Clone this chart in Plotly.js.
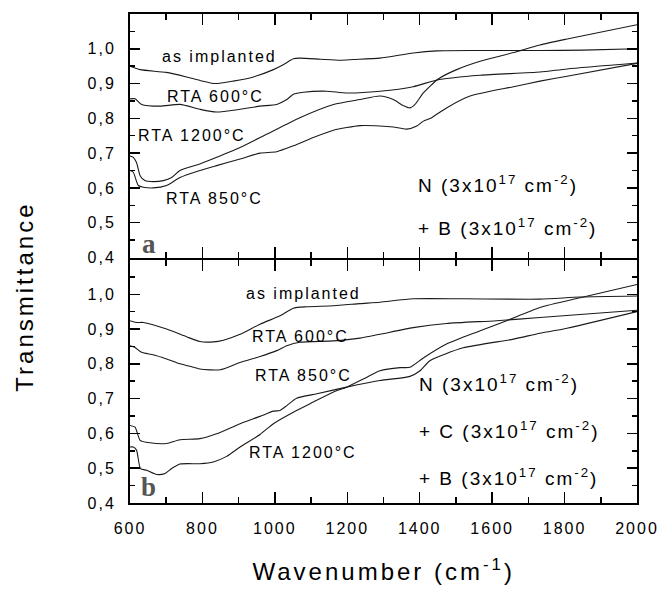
<!DOCTYPE html>
<html>
<head>
<meta charset="utf-8">
<script src="https://cdn.plot.ly/plotly-3.0.1.min.js"></script>
<style>
body { margin: 0; background: #fff; }
#chart { width: 660px; height: 589px; }
.main-svg text { letter-spacing: 2px; }
</style>
</head>
<body>
<div id="chart"></div>
<script>
// ---- Panel a: N + B ----
const aImplX = [600, 628, 700, 756, 793, 835, 885, 941, 996, 1023, 1051, 1069, 1125, 1180, 1217, 1290, 1382, 1448, 1567, 1732, 1850, 2000];
const aImplY = [0.950, 0.940, 0.932, 0.919, 0.909, 0.900, 0.907, 0.919, 0.940, 0.954, 0.971, 0.973, 0.970, 0.967, 0.969, 0.973, 0.988, 0.994, 0.995, 0.995, 0.996, 1.000];

const a600X = [600, 614, 632, 683, 738, 793, 839, 904, 959, 1005, 1033, 1051, 1079, 1143, 1198, 1290, 1382, 1451, 1567, 1732, 1807, 2000];
const a600Y = [0.856, 0.856, 0.840, 0.835, 0.840, 0.826, 0.818, 0.826, 0.835, 0.840, 0.854, 0.869, 0.875, 0.878, 0.873, 0.878, 0.891, 0.911, 0.924, 0.933, 0.942, 0.959];

const a1200X = [600, 609, 618, 628, 641, 664, 692, 715, 738, 793, 839, 904, 977, 1069, 1162, 1235, 1290, 1327, 1354, 1373, 1387, 1410, 1451, 1502, 1567, 1659, 1732, 1807, 2000];
const a1200Y = [0.692, 0.688, 0.673, 0.635, 0.621, 0.618, 0.621, 0.630, 0.650, 0.669, 0.688, 0.716, 0.754, 0.802, 0.840, 0.854, 0.864, 0.854, 0.837, 0.830, 0.840, 0.873, 0.913, 0.940, 0.964, 0.989, 1.011, 1.028, 1.069];

const a850X = [600, 609, 623, 637, 664, 701, 738, 793, 839, 904, 959, 1005, 1051, 1106, 1162, 1235, 1290, 1327, 1364, 1392, 1410, 1433, 1474, 1539, 1659, 1732, 1807, 2000];
const a850Y = [0.650, 0.645, 0.607, 0.602, 0.600, 0.607, 0.630, 0.650, 0.664, 0.683, 0.700, 0.704, 0.721, 0.745, 0.766, 0.779, 0.778, 0.775, 0.769, 0.778, 0.792, 0.802, 0.830, 0.864, 0.891, 0.907, 0.921, 0.958];

// ---- Panel b: N + C + B ----
const bImplX = [600, 618, 637, 701, 756, 793, 830, 858, 904, 959, 1014, 1051, 1088, 1162, 1235, 1290, 1382, 1520, 1732, 1843, 2000];
const bImplY = [0.924, 0.919, 0.919, 0.900, 0.878, 0.864, 0.863, 0.868, 0.885, 0.914, 0.938, 0.960, 0.964, 0.967, 0.973, 0.977, 0.987, 0.987, 0.986, 0.992, 0.995];

const b600X = [600, 614, 632, 664, 701, 738, 765, 793, 849, 904, 959, 1005, 1033, 1069, 1162, 1235, 1290, 1382, 1474, 1612, 1732, 2000];
const b600Y = [0.852, 0.847, 0.833, 0.826, 0.814, 0.800, 0.793, 0.785, 0.783, 0.804, 0.821, 0.838, 0.852, 0.862, 0.866, 0.874, 0.885, 0.904, 0.916, 0.924, 0.933, 0.954];

const b850X = [600, 614, 628, 655, 701, 738, 793, 839, 904, 959, 996, 1014, 1033, 1060, 1116, 1198, 1290, 1373, 1401, 1428, 1520, 1659, 1732, 1797, 2000];
const b850Y = [0.623, 0.618, 0.580, 0.573, 0.571, 0.582, 0.585, 0.599, 0.628, 0.649, 0.664, 0.666, 0.680, 0.701, 0.714, 0.733, 0.752, 0.764, 0.780, 0.809, 0.846, 0.871, 0.888, 0.900, 0.950];

const b1200X = [600, 609, 618, 629, 646, 674, 697, 715, 738, 793, 830, 867, 904, 959, 996, 1051, 1106, 1162, 1198, 1253, 1290, 1346, 1373, 1410, 1474, 1567, 1640, 1732, 1843, 2000];
const b1200Y = [0.561, 0.561, 0.552, 0.499, 0.494, 0.482, 0.485, 0.499, 0.512, 0.513, 0.518, 0.534, 0.561, 0.597, 0.628, 0.661, 0.690, 0.719, 0.733, 0.761, 0.780, 0.789, 0.790, 0.817, 0.857, 0.895, 0.924, 0.962, 0.990, 1.028];

const yTickStep = 0.1;
const xTickStep = 200;

const lineStyle = {color: '#1a1a1a', width: 1.1, shape: 'spline', smoothing: 0.6};
function tr(x, y, xa, ya) {
  return {x: x, y: y, xaxis: xa, yaxis: ya, type: 'scatter', mode: 'lines', line: lineStyle, hoverinfo: 'skip', showlegend: false};
}

const data = [
  tr(aImplX, aImplY, 'x2', 'y2'),
  tr(a600X, a600Y, 'x2', 'y2'),
  tr(a1200X, a1200Y, 'x2', 'y2'),
  tr(a850X, a850Y, 'x2', 'y2'),
  tr(bImplX, bImplY, 'x', 'y'),
  tr(b600X, b600Y, 'x', 'y'),
  tr(b850X, b850Y, 'x', 'y'),
  tr(b1200X, b1200Y, 'x', 'y')
];

const tickFont = {family: 'Liberation Sans, Arial, sans-serif', size: 16, color: '#000'};
const xBase = {
  range: [600, 2000], tick0: 600, dtick: xTickStep,
  ticks: 'inside', ticklen: 11, tickwidth: 1.5, tickcolor: '#000',
  minor: {dtick: 100, tick0: 600, ticks: 'inside', ticklen: 6, tickwidth: 1.5, tickcolor: '#000'},
  showline: true, linewidth: 2, linecolor: '#000', mirror: 'allticks',
  showgrid: false, zeroline: false, tickfont: tickFont, ticklabelstandoff: 10
};
const yBase = {
  range: [0.4, 1.0999], tick0: 0.4, dtick: yTickStep, tickformat: '.1f',
  ticks: 'inside', ticklen: 10, tickwidth: 1.5, tickcolor: '#000',
  minor: {dtick: 0.05, tick0: 0.4, ticks: 'inside', ticklen: 5, tickwidth: 1.5, tickcolor: '#000'},
  showline: true, linewidth: 2, linecolor: '#000', mirror: 'allticks',
  showgrid: false, zeroline: false, tickfont: tickFont, ticklabelstandoff: 9
};

const annFont = {family: 'Liberation Sans, Arial, sans-serif', size: 16, color: '#000'};
const dopeFont = {family: 'Liberation Sans, Arial, sans-serif', size: 19, color: '#000'};
function lab(text, x, y, xr, yr) {
  return {text: text, x: x, y: y, xref: xr, yref: yr, showarrow: false, xanchor: 'center', yanchor: 'middle', font: annFont};
}
function dope(text, x, y, xr, yr) {
  return {text: text, x: x, y: y, xref: xr, yref: yr, showarrow: false, xanchor: 'left', align: 'left', yanchor: 'middle', font: dopeFont};
}
const supN = 'N (3x10<sup>17</sup> cm<sup>-2</sup>)';
const supB = '+ B (3x10<sup>17</sup> cm<sup>-2</sup>)';
const supC = '+ C (3x10<sup>17</sup> cm<sup>-2</sup>)';

const annotations = [
  lab('as implanted', 846, 0.977, 'x2', 'y2'),
  lab('RTA 600°C', 837, 0.863, 'x2', 'y2'),
  lab('RTA 1200°C', 771, 0.751, 'x2', 'y2'),
  lab('RTA 850°C', 832, 0.569, 'x2', 'y2'),
  dope(supN, 1390, 0.612, 'x2', 'y2'),
  dope(supB, 1390, 0.489, 'x2', 'y2'),
  lab('as implanted', 1080, 1.001, 'x', 'y'),
  lab('RTA 600°C', 1072, 0.880, 'x', 'y'),
  lab('RTA 850°C', 1078, 0.766, 'x', 'y'),
  lab('RTA 1200°C', 1078, 0.546, 'x', 'y'),
  dope(supN, 1393, 0.745, 'x', 'y'),
  dope(supC, 1393, 0.609, 'x', 'y'),
  dope(supB, 1393, 0.475, 'x', 'y'),
  {text: '<b>a</b>', x: 654, y: 0.44, xref: 'x2', yref: 'y2', showarrow: false, xanchor: 'center', yanchor: 'middle',
   font: {family: 'Liberation Serif, Times New Roman, serif', size: 27, color: '#555'}},
  {text: '<b>b</b>', x: 653, y: 0.447, xref: 'x', yref: 'y', showarrow: false, xanchor: 'center', yanchor: 'middle',
   font: {family: 'Liberation Serif, Times New Roman, serif', size: 27, color: '#555'}},
  {text: 'Transmittance', x: -0.209, y: 0.421, xref: 'paper', yref: 'paper', showarrow: false, textangle: -90,
   xanchor: 'center', yanchor: 'middle', font: {family: 'Liberation Sans, Arial, sans-serif', size: 24, color: '#000'}},
  {text: 'Wavenumber (cm<sup>-1</sup>)', x: 0.5, y: -0.136, xref: 'paper', yref: 'paper', showarrow: false,
   xanchor: 'center', yanchor: 'middle', font: {family: 'Liberation Sans, Arial, sans-serif', size: 24, color: '#000'}}
];

const gap = 1 / 489;
const layout = {
  width: 660, height: 589,
  margin: {l: 130, r: 23, t: 14, b: 86},
  paper_bgcolor: '#fff', plot_bgcolor: '#fff',
  separators: ',.',
  showlegend: false,
  xaxis: Object.assign({}, xBase, {anchor: 'y', domain: [0, 1]}),
  xaxis2: Object.assign({}, xBase, {anchor: 'y2', domain: [0, 1], matches: 'x', showticklabels: false}),
  yaxis: Object.assign({}, yBase, {anchor: 'x', domain: [0, 0.5 - gap]}),
  yaxis2: Object.assign({}, yBase, {anchor: 'x2', domain: [0.5 + gap, 1]}),
  annotations: annotations
};

Plotly.newPlot('chart', data, layout, {staticPlot: true}).then(function () {
  document.querySelectorAll('.annotation-text').forEach(function (t) {
    const s = t.textContent;
    if (s === 'Transmittance' || s.indexOf('Wavenumber') === 0) {
      t.style.letterSpacing = '3px';
    }
  });
});
</script>
</body>
</html>
